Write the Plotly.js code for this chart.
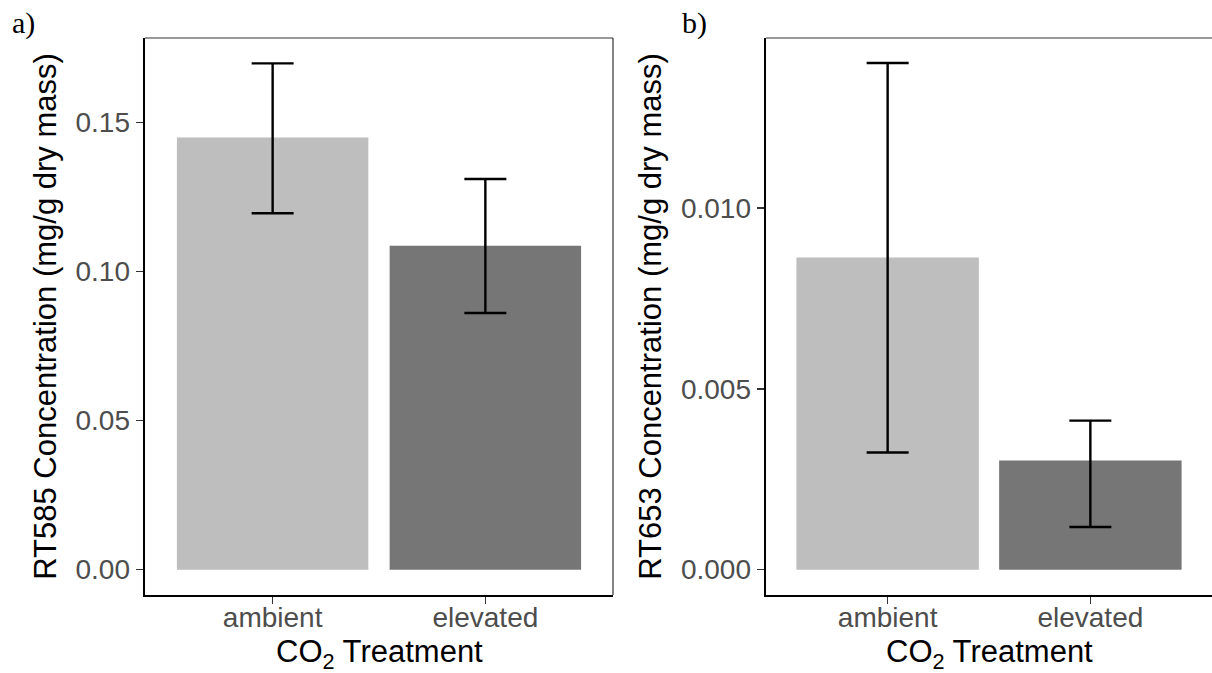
<!DOCTYPE html>
<html>
<head>
<meta charset="utf-8">
<script src="https://cdn.plot.ly/plotly-3.0.1.min.js"></script>
<style>html,body{margin:0;padding:0;background:#fff}#chart{width:1212px;height:673px}</style>
</head>
<body>
<div id="chart"></div>
<script>
// Data
const categories = ['ambient', 'elevated'];
const barColors = ['#bebebe', '#767676'];

const rt585Mean  = [0.1450, 0.1087];
const rt585Upper = [0.1699, 0.1311];
const rt585Lower = [0.1196, 0.0861];

const rt653Mean  = [0.00863, 0.00302];
const rt653Upper = [0.01401, 0.00412];
const rt653Lower = [0.00324, 0.00118];

const yTicks585 = [0, 0.05, 0.10, 0.15];
const yTickText585 = ['0.00', '0.05', '0.10', '0.15'];
const yTicks653 = [0, 0.005, 0.010];
const yTickText653 = ['0.000', '0.005', '0.010'];

const xTitle = 'CO<sub>2</sub> Treatment';

function diff(a, b) { return a.map((v, i) => v - b[i]); }

const errStyle = {color: '#000000', thickness: 2.4, width: 21};

const traces = [
  {
    type: 'bar', x: categories, y: rt585Mean, xaxis: 'x', yaxis: 'y',
    width: 0.9, marker: {color: barColors, line: {width: 0}},
    error_y: Object.assign({type: 'data', symmetric: false,
      array: diff(rt585Upper, rt585Mean), arrayminus: diff(rt585Mean, rt585Lower)}, errStyle),
    hoverinfo: 'x+y', showlegend: false
  },
  {
    type: 'bar', x: categories, y: rt653Mean, xaxis: 'x2', yaxis: 'y2',
    width: 0.9, marker: {color: barColors, line: {width: 0}},
    error_y: Object.assign({type: 'data', symmetric: false,
      array: diff(rt653Upper, rt653Mean), arrayminus: diff(rt653Mean, rt653Lower)}, errStyle),
    hoverinfo: 'x+y', showlegend: false
  }
];

const W = 1212, H = 673;
const yDom = [1 - 595 / H, 1 - 38 / H];
const fontFam = '"Liberation Sans", Arial, Helvetica, sans-serif';

function xAxis(domain, anchor) {
  return {
    domain: domain, anchor: anchor, type: 'category',
    range: [-0.6, 1.6], showgrid: false, zeroline: false,
    showline: true, linecolor: '#000', linewidth: 2.4,
    ticks: 'outside', ticklen: 7, tickwidth: 1.6, tickcolor: '#333',
    ticklabelstandoff: -11,
    tickfont: {family: fontFam, size: 28, color: '#4d4d4d'},
    fixedrange: true
  };
}
function yAxis(domain, anchor, range, tv, tt, title) {
  return {
    domain: domain, anchor: anchor, range: range,
    tickvals: tv, ticktext: tt, showgrid: false, zeroline: false,
    showline: true, linecolor: '#000', linewidth: 2.4,
    ticks: 'outside', ticklen: 7, tickwidth: 1.6, tickcolor: '#333',
    tickfont: {family: fontFam, size: 28, color: '#4d4d4d'},
    title: {text: title, standoff: 10,
      font: {family: fontFam, size: 31, color: '#000'}},
    fixedrange: true
  };
}

const layout = {
  width: W, height: H,
  margin: {l: 0, r: 0, t: 0, b: 0},
  paper_bgcolor: '#fff', plot_bgcolor: '#fff',
  showlegend: false,
  bargap: 0.1,
  xaxis: xAxis([145 / W, 613 / W], 'y'),
  yaxis: yAxis(yDom, 'x', [-0.0085, 0.1784], yTicks585, yTickText585,
    'RT585 Concentration (mg/g dry mass)'),
  xaxis2: xAxis([766 / W, 1], 'y2'),
  yaxis2: yAxis(yDom, 'x2', [-0.0007, 0.0147], yTicks653, yTickText653,
    'RT653 Concentration (mg/g dry mass)'),
  shapes: [
    // thin panel border (top and right) for panel a
    {type: 'line', xref: 'x domain', yref: 'y domain', x0: 0, x1: 1, y0: 1, y1: 1,
      line: {color: '#333', width: 1.2}},
    {type: 'line', xref: 'x domain', yref: 'y domain', x0: 1, x1: 1, y0: 0, y1: 1,
      line: {color: '#333', width: 1.2}},
    // panel b top border
    {type: 'line', xref: 'x2 domain', yref: 'y2 domain', x0: 0, x1: 1, y0: 1, y1: 1,
      line: {color: '#333', width: 1.2}}
  ],
  annotations: [
    {text: 'a)', xref: 'paper', yref: 'paper', x: 10 / W, y: 1 - 4 / H,
      xanchor: 'left', yanchor: 'top', showarrow: false,
      font: {family: '"Liberation Serif", "Times New Roman", serif', size: 30, color: '#000'}},
    {text: 'b)', xref: 'paper', yref: 'paper', x: 680 / W, y: 1 - 4 / H,
      xanchor: 'left', yanchor: 'top', showarrow: false,
      font: {family: '"Liberation Serif", "Times New Roman", serif', size: 30, color: '#000'}},
    {text: xTitle, xref: 'x domain', yref: 'paper', x: 0.5, y: -2 / H,
      xanchor: 'center', yanchor: 'bottom', showarrow: false, borderpad: 0,
      font: {family: fontFam, size: 31, color: '#000'}},
    {text: xTitle, xref: 'x2 domain', yref: 'paper', x: 0.5, y: -2 / H,
      xanchor: 'center', yanchor: 'bottom', showarrow: false, borderpad: 0,
      font: {family: fontFam, size: 31, color: '#000'}}
  ]
};

Plotly.newPlot('chart', traces, layout, {staticPlot: true, displayModeBar: false});
</script>
</body>
</html>
